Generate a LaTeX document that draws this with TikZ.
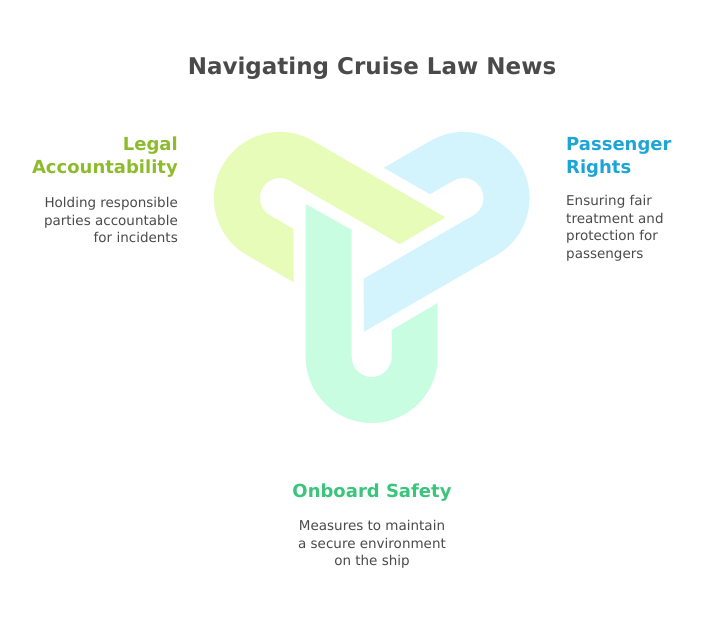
\documentclass[tikz,border=0pt]{standalone}
\usepackage{fontspec}
\setmainfont{DejaVu Sans}
\definecolor{yellowband}{HTML}{E7FCB9}
\definecolor{blueband}{HTML}{D3F3FD}
\definecolor{greenband}{HTML}{C9FDE2}
\definecolor{yellowhead}{HTML}{8CBC2C}
\definecolor{bluehead}{HTML}{1EA5D8}
\definecolor{greenhead}{HTML}{3BC47B}
\definecolor{inkgray}{HTML}{4A4A4A}
\tikzset{
  heading/.style={font=\fontsize{18}{23}\selectfont\bfseries, inner sep=0pt},
  blurb/.style={font=\fontsize{13.5}{17.6}\selectfont, text=inkgray, inner sep=0pt},
}
\newcommand{\hookband}{(-66,47) -- (-20,21) -- (-20,-106) arc (180:360:20) -- (20,-79) -- (66,-52) -- (66,-106) arc (0:-180:66) -- cycle}
\begin{document}
\begin{tikzpicture}[x=1pt,y=1pt]
  \useasboundingbox (0,0) rectangle (708,-624);
  % the three bands
  \begin{scope}[shift={(371.7,-251)}]
    \fill[greenband] \hookband;
    \fill[yellowband, rotate=-120] \hookband;
    \fill[blueband, rotate=120] \hookband;
  \end{scope}
  \node[font=\fontsize{23}{28}\selectfont\bfseries, text=inkgray] (title) at (372,-68) {Navigating Cruise Law News};
  % labels
  \node[heading, text=yellowhead, align=right, anchor=north east] (legal) at (178,-137) {Legal\\Accountability};
  \node[blurb, align=right, anchor=north east] (legaltxt) at (178,-197) {Holding responsible\\parties accountable\\for incidents};
  \node[heading, text=bluehead, align=left, anchor=north west] (pass) at (566,-137) {Passenger\\Rights};
  \node[blurb, align=left, anchor=north west] (passtxt) at (566,-195) {Ensuring fair\\treatment and\\protection for\\passengers};
  \node[heading, text=greenhead, anchor=north] (safe) at (372,-484) {Onboard Safety};
  \node[blurb, align=center, anchor=north] (safetxt) at (372,-520) {Measures to maintain\\a secure environment\\on the ship};
\end{tikzpicture}
\end{document}
